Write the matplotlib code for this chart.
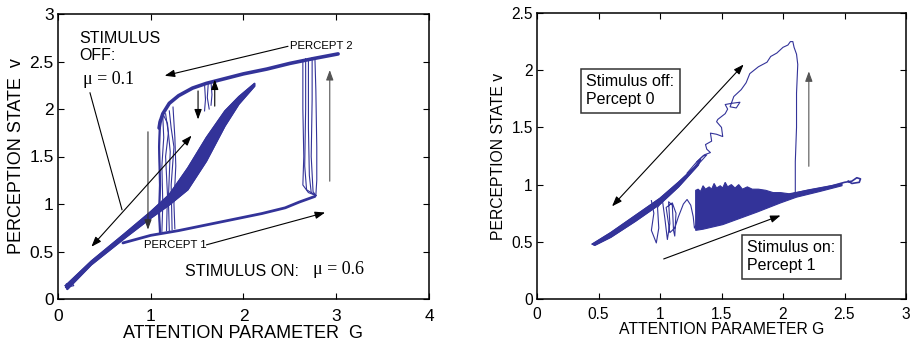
import numpy as np
import matplotlib.pyplot as plt

plt.rcParams['font.family'] = ['Liberation Sans', 'DejaVu Sans']

blue = '#333399'

# ---------- left panel data (G, v) ----------
upper_branch = [(1.09, 1.80), (1.10, 1.86), (1.13, 1.95), (1.20, 2.06), (1.30, 2.14), (1.45, 2.22),
                (1.60, 2.27), (1.80, 2.32), (2.00, 2.37), (2.25, 2.42), (2.50, 2.48), (2.75, 2.53),
                (3.02, 2.58)]
lower_branch = [(0.70, 0.59), (1.00, 0.67), (1.30, 0.72), (1.60, 0.78), (1.90, 0.84), (2.20, 0.90),
                (2.45, 0.96), (2.60, 1.02), (2.77, 1.08)]
left_drops = [
    [(1.10, 1.88), (1.09, 1.60), (1.10, 1.20), (1.09, 0.90), (1.10, 0.70)],
    [(1.13, 1.92), (1.14, 1.70), (1.12, 1.40), (1.13, 1.00), (1.12, 0.71)],
    [(1.16, 1.95), (1.19, 1.75), (1.16, 1.50), (1.18, 1.10), (1.17, 0.72)],
    [(1.20, 1.98), (1.22, 1.80), (1.25, 1.60), (1.22, 1.20), (1.23, 0.73)],
    [(1.24, 2.02), (1.26, 1.70), (1.27, 1.40), (1.25, 1.00), (1.26, 0.74)],
    [(1.14, 1.93), (1.18, 1.85), (1.21, 1.55), (1.19, 1.05), (1.20, 0.72)],
]
right_drops = [
    [(2.64, 2.52), (2.64, 2.00), (2.65, 1.50), (2.64, 1.20), (2.70, 1.12), (2.78, 1.09)],
    [(2.67, 2.53), (2.67, 2.00), (2.66, 1.40), (2.68, 1.15), (2.78, 1.09)],
    [(2.70, 2.53), (2.70, 1.80), (2.71, 1.30), (2.73, 1.12), (2.78, 1.09)],
    [(2.74, 2.54), (2.74, 2.10), (2.73, 1.50), (2.75, 1.13), (2.78, 1.09)],
    [(2.77, 2.54), (2.78, 2.20), (2.79, 1.60), (2.79, 1.25), (2.78, 1.09)],
]
mid_drops = [
    [(1.58, 2.26), (1.59, 2.10), (1.58, 1.98)],
    [(1.62, 2.27), (1.61, 2.12), (1.63, 2.00)],
    [(1.65, 2.28), (1.66, 2.15), (1.65, 2.04)],
]
band_upper = [(0.08, 0.14), (0.36, 0.40), (0.72, 0.69), (1.00, 0.92), (1.20, 1.10), (1.40, 1.38),
              (1.60, 1.70), (1.80, 1.98), (1.95, 2.13), (2.12, 2.27)]
band_lower = [(2.12, 2.24), (1.95, 2.05), (1.80, 1.82), (1.60, 1.45), (1.40, 1.15), (1.20, 0.99),
              (1.00, 0.85), (0.72, 0.64), (0.36, 0.36), (0.10, 0.10)]
band_tip_loop = [(0.12, 0.13), (0.08, 0.12), (0.09, 0.16), (0.15, 0.17), (0.17, 0.14), (0.12, 0.13)]

# arrows: (tail, head)
left_arrows = [((2.48, 2.66), (1.15, 2.35), 'black'),
               ((0.97, 1.76), (0.97, 0.73), '#333333'),
               ((2.93, 1.24), (2.93, 2.41), '#555555'),
               ((1.51, 2.19), (1.51, 1.89), 'black'),
               ((1.69, 2.03), (1.69, 2.31), 'black'),
               ((1.60, 0.57), (2.88, 0.91), 'black')]
left_double = ((0.36, 0.55), (1.44, 1.72))
mu_pointer = [(0.345, 2.17), (0.69, 0.94)]

# ---------- right panel data ----------
r_band_upper = [(0.45, 0.48), (0.60, 0.58), (0.80, 0.73), (1.00, 0.88), (1.15, 1.02), (1.28, 1.15),
                (1.33, 1.22)]
r_band_lower = [(1.31, 1.17), (1.15, 0.98), (1.00, 0.83), (0.80, 0.68), (0.60, 0.54), (0.47, 0.47)]
r_band_loops = [(1.22, 1.10), (1.30, 1.20), (1.35, 1.25), (1.38, 1.26), (1.33, 1.20), (1.25, 1.12)]
wander = [(1.30, 1.20), (1.36, 1.26), (1.41, 1.28), (1.38, 1.31), (1.37, 1.35), (1.42, 1.38),
          (1.41, 1.45), (1.46, 1.44), (1.51, 1.42), (1.50, 1.50), (1.46, 1.55), (1.47, 1.57),
          (1.53, 1.62), (1.55, 1.66), (1.53, 1.70), (1.58, 1.71), (1.65, 1.72), (1.62, 1.67),
          (1.57, 1.68), (1.60, 1.77), (1.66, 1.83), (1.70, 1.89), (1.73, 1.97), (1.80, 2.03),
          (1.87, 2.07), (1.90, 2.12), (1.95, 2.15), (2.00, 2.20), (2.04, 2.22), (2.06, 2.25),
          (2.08, 2.25), (2.09, 2.20), (2.11, 2.14), (2.12, 2.05), (2.11, 1.80), (2.11, 1.50),
          (2.10, 1.20), (2.10, 0.93)]
squiggle = [(0.93, 0.86), (0.95, 0.75), (0.93, 0.60), (0.97, 0.49), (0.99, 0.62), (0.98, 0.80),
            (1.02, 0.86), (1.04, 0.70), (1.06, 0.52), (1.08, 0.66), (1.07, 0.85), (1.10, 0.82),
            (1.11, 0.60), (1.12, 0.55), (1.13, 0.75), (1.10, 0.84), (1.05, 0.80), (1.08, 0.58),
            (1.12, 0.62), (1.15, 0.72), (1.19, 0.83), (1.22, 0.87), (1.25, 0.82), (1.27, 0.72),
            (1.28, 0.62), (1.29, 0.64)]
dense_top = [(1.29, 0.62), (1.29, 0.95), (1.31, 0.96), (1.33, 0.94), (1.35, 0.99), (1.37, 0.96),
             (1.40, 0.98), (1.42, 0.96), (1.44, 1.01), (1.46, 0.97), (1.49, 0.99), (1.51, 0.97),
             (1.53, 1.02), (1.55, 0.98), (1.58, 1.00), (1.61, 0.97), (1.64, 1.00), (1.67, 0.96),
             (1.71, 0.98), (1.75, 0.96), (1.80, 0.96), (1.86, 0.95), (1.92, 0.93), (1.98, 0.93),
             (2.05, 0.92), (2.20, 0.95), (2.35, 0.98), (2.48, 1.01)]
dense_bottom = [(2.48, 0.99), (2.30, 0.94), (2.11, 0.89), (1.98, 0.84), (1.79, 0.76), (1.51, 0.65),
                (1.35, 0.61), (1.29, 0.60)]
r_lower = [(2.00, 0.90), (2.20, 0.95), (2.40, 0.99), (2.50, 1.02), (2.56, 1.03), (2.60, 1.06),
           (2.63, 1.05), (2.62, 1.02), (2.56, 1.01), (2.53, 1.03)]
right_arrows = [((2.21, 1.16), (2.21, 1.99), '#555555'),
                ((1.03, 0.35), (1.98, 0.73), 'black')]
right_double = ((0.61, 0.81), (1.68, 2.05))


def xy(pts):
    a = np.array(pts)
    return a[:, 0], a[:, 1]


def arrow(ax, tail, head, color, style='-|>'):
    ax.annotate('', xy=head, xytext=tail,
                arrowprops=dict(arrowstyle=style + ',head_length=0.6,head_width=0.22',
                                color=color, lw=0.8, mutation_scale=10,
                                shrinkA=0, shrinkB=0))


fig = plt.figure(figsize=(9.14, 3.42), dpi=100)

# ---------------- left ----------------
ax1 = fig.add_axes([58 / 914, 43 / 342, 371 / 914, 285 / 342])
ax1.fill(*xy(band_upper + band_lower), color=blue, lw=1)
ax1.plot(*xy(band_upper + band_lower + band_upper[:1]), color=blue, lw=1)
ax1.plot(*xy(band_tip_loop), color=blue, lw=0.8)
ax1.plot(*xy(upper_branch), color=blue, lw=2.6, solid_capstyle='round')
ax1.plot(*xy(lower_branch), color=blue, lw=2.0, solid_capstyle='round')
for tr in left_drops + right_drops + mid_drops:
    ax1.plot(*xy(tr), color=blue, lw=0.8)
ax1.plot(*xy(left_drops[0]), color=blue, lw=1.6)

for tail, head, c in left_arrows:
    arrow(ax1, tail, head, c)
arrow(ax1, left_double[0], left_double[1], 'black', '<|-|>')
ax1.plot(*xy(mu_pointer), color='black', lw=0.8)

ax1.text(0.23, 2.82, 'STIMULUS\nOFF:', fontsize=11.5, va='top', ha='left', linespacing=1.15)
ax1.text(0.27, 2.31, 'μ = 0.1', fontsize=13, family='Liberation Serif', va='center')
ax1.text(2.50, 2.66, 'PERCEPT 2', fontsize=8.2, va='center')
ax1.text(0.93, 0.57, 'PERCEPT 1', fontsize=8.2, va='center')
ax1.text(1.37, 0.29, 'STIMULUS ON:', fontsize=11.5, va='center')
ax1.text(2.75, 0.31, 'μ = 0.6', fontsize=13, family='Liberation Serif', va='center')

ax1.set_xlim(0, 4)
ax1.set_ylim(0, 3)
ax1.set_xticks([0, 1, 2, 3, 4])
ax1.set_yticks([0, 0.5, 1, 1.5, 2, 2.5, 3])
ax1.set_yticklabels(['0', '0.5', '1', '1.5', '2', '2.5', '3'])
ax1.tick_params(direction='in', top=True, right=True, length=4, labelsize=12.5)
ax1.tick_params(axis='x', pad=7)
ax1.tick_params(axis='y', pad=3)
ax1.set_xlabel('ATTENTION PARAMETER  G', fontsize=13, labelpad=1)
ax1.set_ylabel('PERCEPTION STATE  v', fontsize=13, labelpad=3)

# ---------------- right ----------------
ax2 = fig.add_axes([537 / 914, 43 / 342, 369 / 914, 286 / 342])
ax2.fill(*xy(r_band_upper + r_band_lower), color=blue, lw=1)
ax2.plot(*xy(r_band_upper + r_band_lower + r_band_upper[:1]), color=blue, lw=1)
ax2.plot(*xy(r_band_loops), color=blue, lw=0.8)
ax2.fill(*xy(dense_top + dense_bottom), color=blue, lw=0.8)
ax2.plot(*xy(wander), color=blue, lw=0.8)
ax2.plot(*xy(squiggle), color=blue, lw=0.8)
ax2.plot(*xy(r_lower), color=blue, lw=1.2)

for tail, head, c in right_arrows:
    arrow(ax2, tail, head, c)
arrow(ax2, right_double[0], right_double[1], 'black', '<|-|>')

box = dict(boxstyle='square,pad=0.35', fc='white', ec='#333333', lw=1.1)
ax2.text(0.40, 1.82, 'Stimulus off:\nPercept 0', fontsize=11.5, va='center', ha='left',
         linespacing=1.25, bbox=box)
ax2.text(1.71, 0.37, 'Stimulus on:\nPercept 1', fontsize=11.5, va='center', ha='left',
         linespacing=1.25, bbox=box)

ax2.set_xlim(0, 3)
ax2.set_ylim(0, 2.5)
ax2.set_xticks([0, 0.5, 1, 1.5, 2, 2.5, 3])
ax2.set_xticklabels(['0', '0.5', '1', '1.5', '2', '2.5', '3'])
ax2.set_yticks([0, 0.5, 1, 1.5, 2, 2.5])
ax2.set_yticklabels(['0', '0.5', '1', '1.5', '2', '2.5'])
ax2.tick_params(direction='in', top=True, right=True, length=4, labelsize=11.2)
ax2.tick_params(axis='x', pad=6)
ax2.tick_params(axis='y', pad=3)
ax2.set_xlabel('ATTENTION PARAMETER G', fontsize=11.3, labelpad=0)
ax2.set_ylabel('PERCEPTION STATE v', fontsize=11.3, labelpad=4)

for ax in (ax1, ax2):
    for s in ax.spines.values():
        s.set_linewidth(1.1)

fig.savefig('out.png', dpi=100)
